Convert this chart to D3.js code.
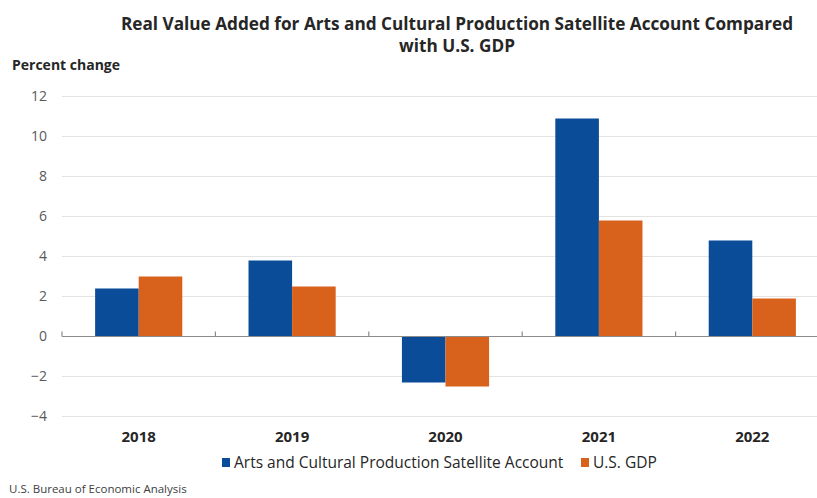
<!DOCTYPE html>
<html><head><meta charset="utf-8">
<script src="https://cdn.jsdelivr.net/npm/d3@7"></script>
<style>body{margin:0;background:#fff}svg{display:block}text{font-family:"Open Sans",sans-serif}</style>
</head><body>
<svg id="c" width="817" height="498"></svg>
<script>
const categories = ["2018","2019","2020","2021","2022"];
const seriesNames = ["Arts and Cultural Production Satellite Account","U.S. GDP"];
const artsValues = [2.4, 3.8, -2.3, 10.9, 4.8];
const gdpValues = [3.0, 2.5, -2.5, 5.8, 1.9];
const yTicks = [-4,-2,0,2,4,6,8,10,12];
const colors = ["#0a4c97","#d8621c"];

const svg = d3.select("#c");
const x0 = d3.scaleBand().domain(categories).range([62, 829]).paddingInner(0).paddingOuter(0);
const x1 = d3.scaleBand().domain([0,1]).range([0, x0.bandwidth()]).paddingInner(0).paddingOuter(0.76);
const y = d3.scaleLinear().domain([-4,12]).range([416.5, 96.5]);

// gridlines
svg.append("g").selectAll("line").data(yTicks.filter(d=>d!==0)).join("line")
  .attr("x1",62).attr("x2",817).attr("y1",d=>y(d)).attr("y2",d=>y(d))
  .attr("stroke","#e3e3e3").attr("stroke-width",1);

// y labels
const yAxis = d3.axisLeft(y).tickValues(yTicks).tickSize(0).tickPadding(0)
  .tickFormat(d=> d<0 ? "\u2212"+Math.abs(d) : d);
const ya = svg.append("g").attr("transform","translate(47,0)").call(yAxis);
ya.select(".domain").remove();
ya.selectAll("text").attr("font-size",14).attr("fill","#595959").attr("font-family","'Open Sans',sans-serif");

// bars
const data = categories.map((c,i)=>({c, v:[artsValues[i], gdpValues[i]]}));
svg.append("g").selectAll("g").data(data).join("g")
  .attr("transform",d=>`translate(${x0(d.c)},0)`)
  .selectAll("rect").data(d=>d.v.map((v,k)=>({v,k}))).join("rect")
  .attr("x",d=>x1(d.k)).attr("width",x1.bandwidth())
  .attr("y",d=>y(Math.max(0,d.v))).attr("height",d=>Math.abs(y(d.v)-y(0)))
  .attr("fill",d=>colors[d.k]);

// zero line + ticks
svg.append("line").attr("x1",62).attr("x2",817).attr("y1",y(0)).attr("y2",y(0))
  .attr("stroke","#8c8c8c").attr("stroke-width",1.2);
svg.append("g").selectAll("line").data(categories).join("line")
  .attr("x1",d=>x0(d)).attr("x2",d=>x0(d)).attr("y1",y(0)).attr("y2",y(0)-5)
  .attr("stroke","#8c8c8c").attr("stroke-width",1.2);

// x labels
const xAxis = d3.axisBottom(x0).tickSize(0).tickPadding(0);
const xa = svg.append("g").attr("transform","translate(0,431)").call(xAxis);
xa.select(".domain").remove();
xa.selectAll("text").attr("font-size",15).attr("font-weight","bold").attr("fill","#262626").attr("dy","0.71em").attr("font-family","'Open Sans',sans-serif");

// title
svg.append("text").attr("x",457).attr("y",30).attr("text-anchor","middle").attr("font-size",17.2).attr("font-weight","bold").attr("fill","#262626")
  .text("Real Value Added for Arts and Cultural Production Satellite Account Compared");
svg.append("text").attr("x",457).attr("y",52).attr("text-anchor","middle").attr("font-size",17.2).attr("font-weight","bold").attr("fill","#262626")
  .text("with U.S. GDP");
svg.append("text").attr("x",12).attr("y",70).attr("font-size",14).attr("font-weight","bold").attr("fill","#262626").text("Percent change");

// legend
const leg = [{x:222, t:seriesNames[0], c:colors[0]},{x:581, t:seriesNames[1], c:colors[1]}];
const lg = svg.append("g").selectAll("g").data(leg).join("g");
lg.append("rect").attr("x",d=>d.x).attr("y",458).attr("width",8).attr("height",9).attr("fill",d=>d.c);
lg.append("text").attr("x",d=>d.x+12).attr("y",468).attr("font-size",15.5).attr("fill","#262626").text(d=>d.t);

svg.append("text").attr("x",9).attr("y",493).attr("font-size",11.5).attr("fill","#404040").text("U.S. Bureau of Economic Analysis");
</script>
</body></html>
